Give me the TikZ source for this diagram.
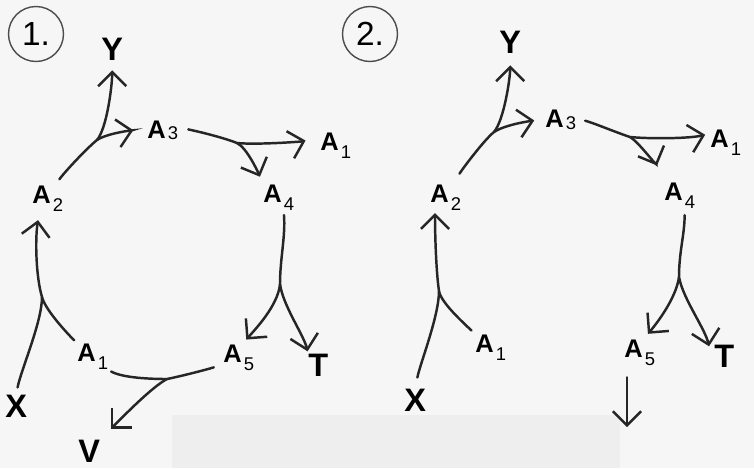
\documentclass[tikz,border=0pt]{standalone}
\usepackage{fontspec}
\setmainfont{Liberation Sans}
\usetikzlibrary{arrows.meta}
\newcommand{\lowsub}[2][5pt]{\kern1.2pt\raisebox{-#1}{\fontsize{10.5}{11}\selectfont\mdseries #2}}
\tikzset{
  met/.style={font=\fontsize{14.5}{15}\selectfont\bfseries, inner sep=0pt, anchor=base west},
  ext/.style={font=\fontsize{18.5}{20}\selectfont\bfseries, inner sep=0pt, anchor=base west},
  num/.style={draw=black!70, line width=0.8pt, circle, minimum size=1.1cm, inner sep=0pt, font=\fontsize{19}{20}\selectfont},
  link/.style={line width=1.4pt, draw=black!85, line cap=round},
  flow/.style={link, -{Straight Barb[length=8pt,width=16pt]}},
}
\begin{document}
\begin{tikzpicture}[x=0.02cm, y=-0.02cm]
\fill[gray!7] (0,0) rectangle (754,468);
\fill[gray!13] (172,415) rectangle (620,468);
% scheme 1
\node[num] (c1) at (36,34) {1.};
\node[ext] (y1) at (101,60) {Y};
\node[met] (a31) at (147,138) {A\lowsub[1pt]{3}};
\node[met] (a11) at (320,150) {A\lowsub{1}};
\node[met] (a41) at (263,202) {A\lowsub{4}};
\node[met] (a21) at (32,203) {A\lowsub{2}};
\node[met] (b11) at (77,361) {A\lowsub{1}};
\node[met] (a51) at (223,362) {A\lowsub{5}};
\node[ext] (t1) at (308,376) {T};
\node[ext] (x1) at (5,417) {X};
\node[ext] (v1) at (78,462) {V};
\coordinate (f1) at (97,140);
\coordinate (f2) at (237,143);
\coordinate (f3) at (280,284);
\coordinate (f4) at (167,379);
\coordinate (f5) at (42,297);
\draw[link, shorten <=0.14cm] (a21.60) .. controls +(8,-12) and +(-10,8) .. (f1);
\draw[flow, shorten >=0.2cm] (f1) .. controls +(10,-12) and +(0,25) .. (y1.south);
\draw[flow, shorten >=0.28cm] (f1) .. controls +(10,-7) and +(-10,2) .. (a31.170);
\draw[link, shorten <=0.2cm] (a31.10) .. controls +(15,3) and +(-15,-6) .. (f2);
\draw[flow, shorten >=0.3cm] (f2) .. controls +(20,2) and +(-18,5) .. (a11.150);
\draw[flow, shorten >=0.16cm] (f2) .. controls +(10,5) and +(-5,-12) .. (a41.north west);
\draw[link, shorten <=0.08cm] (a41.-70) .. controls +(2,25) and +(0,-25) .. (f3);
\draw[flow, shorten >=0.12cm] (f3) .. controls +(-2,22) and +(12,-14) .. (a51.75);
\draw[flow, shorten >=0.04cm] (f3) .. controls +(3,22) and +(-4,-18) .. (t1.north west);
\draw[link, shorten <=0.06cm] (b11.south east) .. controls +(15,8) and +(-15,0) .. (f4);
\draw[link, shorten <=0.2cm] (a51.200) .. controls +(-12,5) and +(15,-3) .. (f4);
\draw[flow, shorten >=0.3cm] (f4) .. controls +(-15,8) and +(25,-25) .. (v1.north east);
\draw[link, shorten <=0.14cm] (x1.north) .. controls +(5,-25) and +(0,25) .. (f5);
\draw[link, shorten <=0.08cm] (b11.north west) .. controls +(-12,-12) and +(3,12) .. (f5);
\draw[flow] (f5) .. controls +(-6,-20) and +(-3,20) .. ([shift={(6,8)}]a21.south west);
% scheme 2
\node[num] (c2) at (370,34) {2.};
\node[ext] (y2) at (499,53) {Y};
\node[met] (a32) at (545,127) {A\lowsub[1.5pt]{3}};
\node[met] (a12) at (710,147) {A\lowsub{1}};
\node[met] (a42) at (664,200) {A\lowsub{4}};
\node[met] (a22) at (430,202) {A\lowsub{2}};
\node[met] (b12) at (475,352) {A\lowsub{1}};
\node[met] (a52) at (624,357) {A\lowsub{5}};
\node[ext] (t2) at (714,367) {T};
\node[ext] (x2) at (404,411) {X};
\coordinate (g1) at (494,132);
\coordinate (g2) at (630,137);
\coordinate (g3) at (679,277);
\coordinate (g5) at (439,291);
\coordinate (e2) at (627,427);
\draw[link, shorten <=0.24cm] (a22.60) .. controls +(8,-14) and +(-10,8) .. (g1);
\draw[flow, shorten >=0.24cm] (g1) .. controls +(10,-12) and +(0,25) .. (y2.south);
\draw[flow, shorten >=0.22cm] (g1) .. controls +(12,-8) and +(-10,2) .. (a32.175);
\draw[link, shorten <=0.18cm] (a32.5) .. controls +(18,5) and +(-15,-5) .. (g2);
\draw[flow, shorten >=0.1cm] (g2) .. controls +(20,2) and +(-20,5) .. (a12.150);
\draw[flow, shorten >=0.36cm] (g2) .. controls +(10,6) and +(-5,-12) .. (a42.north west);
\draw[link, shorten <=0.12cm] (a42.-70) .. controls +(0,25) and +(0,-25) .. (g3);
\draw[flow, shorten >=0.14cm] (g3) .. controls +(-3,22) and +(12,-14) .. (a52.75);
\draw[flow] (g3) .. controls +(4,22) and +(-4,-18) .. ([shift={(-5,2)}]t2.north west);
\draw[link, shorten <=0.22cm] (x2.north) .. controls +(5,-25) and +(0,25) .. (g5);
\draw[link, shorten <=0.1cm] (b12.north west) .. controls +(-10,-10) and +(2,12) .. (g5);
\draw[flow] (g5) .. controls +(-3,-20) and +(0,20) .. ([shift={(5,2)}]a22.south west);
\draw[flow] ([shift={(3,11)}]a52.south west) -- (e2);
\end{tikzpicture}
\end{document}
